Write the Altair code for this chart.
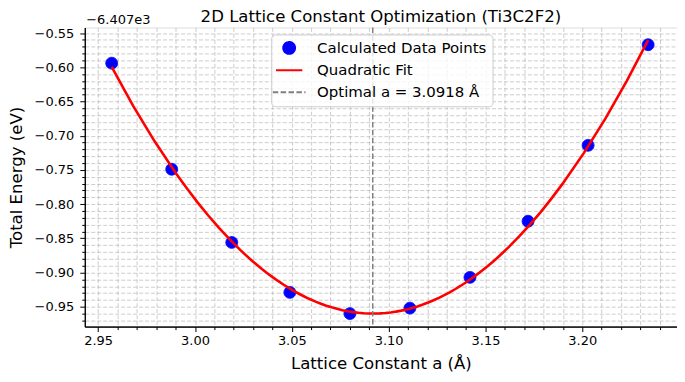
import altair as alt
import pandas as pd

TITLE = "2D Lattice Constant Optimization (Ti3C2F2)"
X_TITLE = "Lattice Constant a (Å)"
Y_TITLE = "Total Energy (eV)"
OFFSET = -6407.0
OFFSET_LABEL = "\u22126.407e3"

LATTICE = [2.957, 2.988, 3.019, 3.049, 3.080, 3.111, 3.142, 3.172, 3.203, 3.234]
ENERGY = [-6407.594, -6407.749, -6407.856, -6407.929, -6407.960,
          -6407.952, -6407.907, -6407.825, -6407.714, -6407.567]
A_OPT = 3.0918
SERIES = ["Calculated Data Points", "Quadratic Fit", "Optimal a = 3.0918 Å"]
COLORS = ["#0000ff", "#ff0000", "#808080"]

X_MAJOR = [2.95, 3.00, 3.05, 3.10, 3.15, 3.20]
X_MINOR = [2.96, 2.97, 2.98, 2.99, 3.01, 3.02, 3.03, 3.04, 3.06, 3.07, 3.08, 3.09,
           3.11, 3.12, 3.13, 3.14, 3.16, 3.17, 3.18, 3.19, 3.21, 3.22, 3.23, 3.24]
Y_MAJOR = [-0.95, -0.90, -0.85, -0.80, -0.75, -0.70, -0.65, -0.60, -0.55]
Y_MINOR = [-0.97, -0.96, -0.94, -0.93, -0.92, -0.91, -0.89, -0.88, -0.87, -0.86,
           -0.84, -0.83, -0.82, -0.81, -0.79, -0.78, -0.77, -0.76, -0.74, -0.73,
           -0.72, -0.71, -0.69, -0.68, -0.67, -0.66, -0.64, -0.63, -0.62, -0.61,
           -0.59, -0.58, -0.57, -0.56]

X_DOMAIN = [2.9431, 3.2489]
Y_DOMAIN = [-0.979, -0.5418]

FONT = "DejaVu Sans"

df = pd.DataFrame({
    "a": LATTICE,
    "E": [round(e - OFFSET, 4) for e in ENERGY],
    "series": SERIES[0],
})
rule_df = pd.DataFrame({"a": [A_OPT]})

xs = alt.Scale(domain=X_DOMAIN, nice=False, zero=False)
ys = alt.Scale(domain=Y_DOMAIN, nice=False, zero=False)

grid_kw = dict(grid=True, gridColor="#b0b0b0", gridOpacity=0.8, gridWidth=0.8,
               gridDash=[4, 2], domainColor="black", tickColor="black",
               labelColor="black", labelFont=FONT, titleFont=FONT)

x_major = alt.Axis(values=X_MAJOR, format=".2f", orient="bottom", tickSize=5,
                   labelFontSize=13, labelPadding=3, title=X_TITLE,
                   titleFontSize=16.6, titleFontWeight="normal", titlePadding=8,
                   titleColor="black", **grid_kw)
x_minor = alt.Axis(values=X_MINOR, orient="bottom", tickSize=3, labels=False,
                   title=None, **grid_kw)
y_major = alt.Axis(values=Y_MAJOR, orient="left", tickSize=5,
                   labelExpr="'\u2212' + format(-datum.value, '.2f')",
                   labelFontSize=13, labelPadding=6, title=Y_TITLE,
                   titleFontSize=16.6, titleFontWeight="normal", titlePadding=10,
                   titleColor="black", **grid_kw)
y_minor = alt.Axis(values=Y_MINOR, orient="left", tickSize=3, labels=False,
                   title=OFFSET_LABEL, titleAngle=0, titleAlign="left",
                   titleBaseline="alphabetic", titleX=1, titleY=-4.3,
                   titleFontSize=13, titleFontWeight="normal", titleColor="black",
                   **grid_kw)

legend = alt.Legend(title=None, orient="none", legendX=187, legendY=7,
                    labelFont=FONT, labelFontSize=15, labelColor="black",
                    labelLimit=400, padding=6, fillColor="rgba(255,255,255,0.8)",
                    strokeColor="#cccccc", cornerRadius=4, rowPadding=2,
                    labelOffset=16, symbolStrokeWidth=2, symbolOpacity=1)

LINE_PATH = "M-1.5,0L1.5,0"

points = alt.Chart(df).mark_point(filled=True, opacity=1, strokeWidth=1).encode(
    x=alt.X("a:Q", scale=xs, axis=x_major),
    y=alt.Y("E:Q", scale=ys, axis=y_major),
    fill=alt.Fill("series:N", scale=alt.Scale(domain=SERIES, range=COLORS), legend=legend),
    stroke=alt.Stroke("series:N", scale=alt.Scale(domain=SERIES, range=COLORS), legend=legend),
    shape=alt.Shape("series:N", scale=alt.Scale(domain=SERIES, range=["circle", LINE_PATH, LINE_PATH]), legend=legend),
    strokeDash=alt.StrokeDash("series:N", scale=alt.Scale(domain=SERIES, range=[[1, 0], [1, 0], [5.5, 2.4]]), legend=legend),
    size=alt.Size("series:N", scale=alt.Scale(domain=SERIES, range=[140, 480, 480]), legend=legend),
)

fit = alt.Chart(df).transform_regression(
    "a", "E", method="poly", order=2, extent=[LATTICE[0], LATTICE[-1]]
).mark_line(color="#ff0000", strokeWidth=2.6).encode(
    x=alt.X("a:Q", scale=xs, axis=x_minor),
    y=alt.Y("E:Q", scale=ys, axis=y_minor),
)

rule = alt.Chart(rule_df).mark_rule(color="#808080", strokeDash=[5.5, 2.4], strokeWidth=1.5).encode(
    x=alt.X("a:Q", scale=xs, axis=None),
)

chart = alt.layer(points, fit, rule).resolve_axis(x="independent", y="independent").properties(
    width=594, height=300,
    title=alt.TitleParams(TITLE, font=FONT, fontSize=16.6, fontWeight="normal",
                          color="black", anchor="middle", offset=-12),
    padding={"left": 0, "top": 0, "right": 0, "bottom": 0},
).configure_view(stroke="black", strokeWidth=1).configure(background="white")

chart.save("out.html", embed_options={"renderer": "svg", "actions": False})
